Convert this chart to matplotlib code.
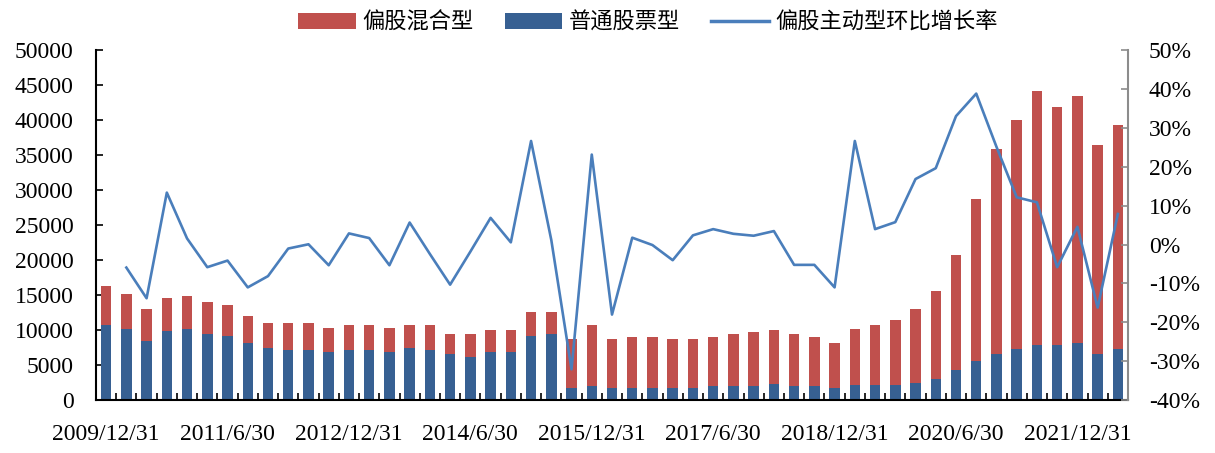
import matplotlib
matplotlib.use("Agg")
import matplotlib.pyplot as plt
from matplotlib.patches import Patch
from matplotlib.lines import Line2D

categories = [
    "2009/12/31",
    "2010/3/31", "2010/6/30", "2010/9/30", "2010/12/31",
    "2011/3/31", "2011/6/30", "2011/9/30", "2011/12/31",
    "2012/3/31", "2012/6/30", "2012/9/30", "2012/12/31",
    "2013/3/31", "2013/6/30", "2013/9/30", "2013/12/31",
    "2014/3/31", "2014/6/30", "2014/9/30", "2014/12/31",
    "2015/3/31", "2015/6/30", "2015/9/30", "2015/12/31",
    "2016/3/31", "2016/6/30", "2016/9/30", "2016/12/31",
    "2017/3/31", "2017/6/30", "2017/9/30", "2017/12/31",
    "2018/3/31", "2018/6/30", "2018/9/30", "2018/12/31",
    "2019/3/31", "2019/6/30", "2019/9/30", "2019/12/31",
    "2020/3/31", "2020/6/30", "2020/9/30", "2020/12/31",
    "2021/3/31", "2021/6/30", "2021/9/30", "2021/12/31",
    "2022/3/31", "2022/6/30",
]

tick_labels = ["2009/12/31", "2011/6/30", "2012/12/31", "2014/6/30", "2015/12/31",
               "2017/6/30", "2018/12/31", "2020/6/30", "2021/12/31"]

# 普通股票型 (blue, bottom)
stock_fund = [10750, 10100, 8500, 9800, 10100, 9450, 9100, 8150, 7500, 7150,
              7150, 6900, 7150, 7150, 6900, 7500, 7150, 6550, 6200, 6900,
              6900, 9100, 9450, 1700, 2000, 1700, 1700, 1700, 1700, 1700,
              2000, 2000, 2000, 2350, 2000, 2000, 1750, 2150, 2150, 2150,
              2450, 3050, 4350, 5650, 6650, 7250, 7850, 7900, 8200, 6650,
              7250]

# 偏股混合型 (red, stacked on top)
hybrid_fund = [5500, 5100, 4450, 4750, 4800, 4500, 4550, 3850, 3550, 3900,
               3900, 3450, 3550, 3550, 3450, 3200, 3550, 2850, 3200, 3150,
               3150, 3500, 3150, 7050, 8700, 7050, 7350, 7350, 7050, 7050,
               7050, 7400, 7750, 7700, 7400, 7050, 6450, 8000, 8650, 9300,
               10600, 12600, 16400, 23150, 29200, 32800, 36400, 34050, 35350, 29850,
               32150]

# 偏股主动型环比增长率 (%), first quarter has no value
growth_rate = [None, -5.9, -13.8, 13.4, 1.6, -5.8, -4.1, -11.0, -8.1, -1.0,
               0.1, -5.3, 2.9, 1.7, -5.3, 5.7, -2.4, -10.3, -1.8, 6.9,
               0.6, 26.7, 1.2, -32.1, 23.2, -18.0, 1.8, -0.1, -4.0, 2.4,
               4.0, 2.8, 2.3, 3.5, -5.2, -5.2, -11.0, 26.7, 4.0, 5.8,
               16.9, 19.7, 33.1, 38.9, 25.2, 12.2, 10.9, -5.8, 4.6, -16.2,
               7.9]

left_ticks = [0, 5000, 10000, 15000, 20000, 25000, 30000, 35000, 40000, 45000, 50000]
right_ticks = [-40, -30, -20, -10, 0, 10, 20, 30, 40, 50]

RED = "#C0504D"
BLUE = "#376092"
LINE = "#4A7EBB"
GRAY = "#8C8C8C"

serif = ["Liberation Serif", "DejaVu Serif"]
cjk = ["Noto Sans CJK SC", "DejaVu Sans"]
FS = 17
LFS = 16

fig = plt.figure(figsize=(12.15, 4.53), dpi=100)
ax = fig.add_axes([96 / 1215, 1 - 400 / 453, (1128 - 96) / 1215, (400 - 50.5) / 453])
ax2 = ax.twinx()

x = list(range(len(categories)))
ax.bar(x, stock_fund, width=0.52, color=BLUE, zorder=2)
ax.bar(x, hybrid_fund, width=0.52, bottom=stock_fund, color=RED, zorder=2)

xs = [i for i, v in zip(x, growth_rate) if v is not None]
ys = [v for v in growth_rate if v is not None]
ax2.plot(xs, ys, color=LINE, lw=1.9, zorder=3)

ax.set_xlim(-0.5, len(categories) - 0.5)
ax.set_ylim(0, 50000)
ax2.set_ylim(-40, 50)

# x ticks: boundaries as visible ticks, labels every 6 quarters
ax.set_xticks([i + 0.5 for i in range(len(categories) - 1)])
ax.set_xticklabels([])
ax.tick_params(axis="x", which="major", direction="in", length=5, width=1.2, color="black")
label_pos = [categories.index(t) for t in tick_labels]
ax.set_xticks(label_pos, minor=True)
ax.set_xticklabels(tick_labels, minor=True, fontfamily=serif, fontsize=FS)
ax.tick_params(axis="x", which="minor", length=0, pad=17)

ax.set_yticks(left_ticks)
ax.set_yticklabels([str(v) for v in left_ticks], fontfamily=serif, fontsize=FS)
ax.tick_params(axis="y", direction="in", length=5, width=1.2, pad=16, color="black")

ax2.set_yticks(right_ticks)
ax2.set_yticklabels([f"{v}%" for v in right_ticks], fontfamily=serif, fontsize=FS)
ax2.tick_params(axis="y", direction="in", length=5, width=1.2, pad=15, color=GRAY)

for a in (ax, ax2):
    a.spines["top"].set_visible(False)
ax.spines["left"].set_linewidth(1.5)
ax.spines["bottom"].set_linewidth(1.5)
ax.spines["right"].set_visible(False)
ax2.spines["left"].set_visible(False)
ax2.spines["bottom"].set_visible(False)
ax2.spines["right"].set_color(GRAY)
ax2.spines["right"].set_linewidth(1.5)

handles = [
    Patch(facecolor=RED, edgecolor="none", label="偏股混合型"),
    Patch(facecolor=BLUE, edgecolor="none", label="普通股票型"),
    Line2D([], [], color=LINE, lw=2.5, label="偏股主动型环比增长率"),
]
fig.legend(handles=handles, loc="center", bbox_to_anchor=(648 / 1215, 1 - 22 / 453),
           ncol=3, frameon=False, prop={"family": cjk, "size": LFS},
           handlelength=2.6, handleheight=0.7, handletextpad=0.3, columnspacing=1.4)

fig.savefig("out.png", dpi=100)
